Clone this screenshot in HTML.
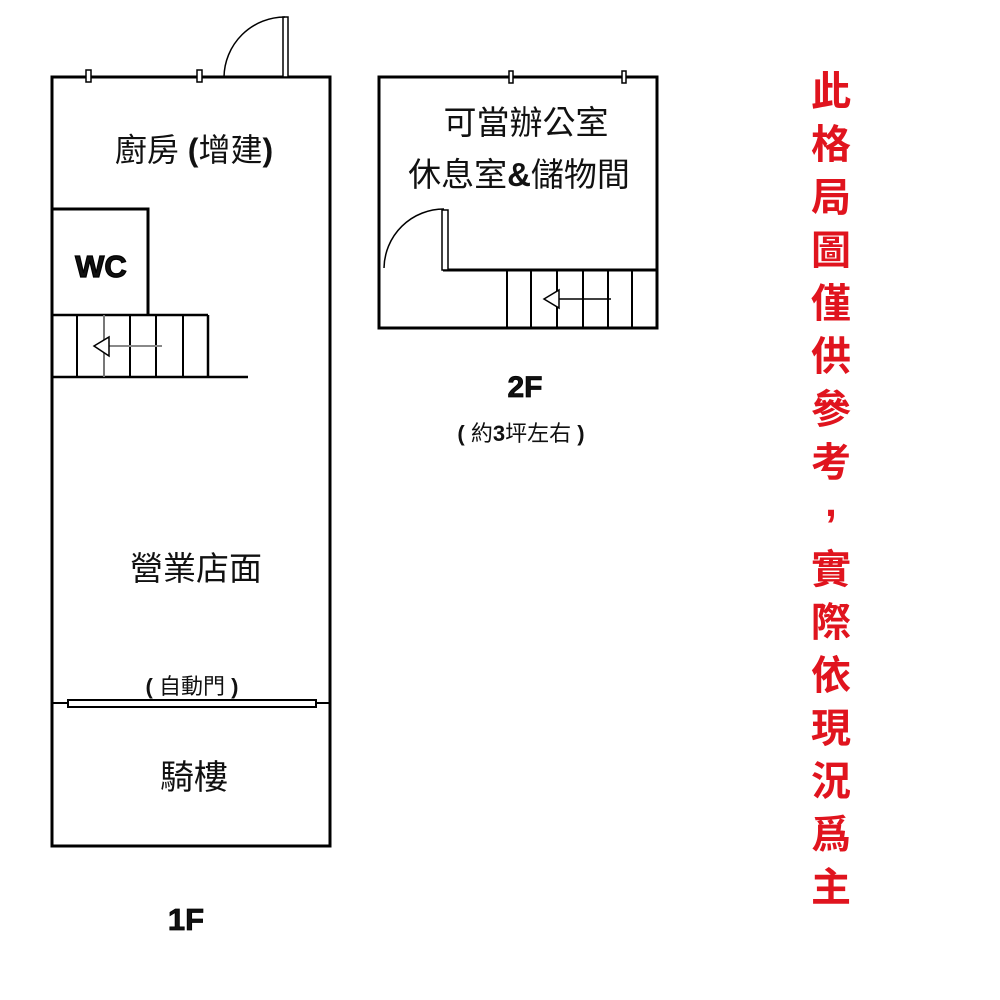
<!DOCTYPE html>
<html><head><meta charset="utf-8"><style>
html,body{margin:0;padding:0;background:#fff;}
svg{display:block}
text{font-family:"Liberation Sans","Noto Sans CJK TC",sans-serif;}
</style></head><body>
<svg width="1000" height="1000" viewBox="0 0 1000 1000" xmlns="http://www.w3.org/2000/svg">
<g fill="none" stroke="#000" stroke-width="3">
  <rect x="52" y="77" width="278" height="769"/>
  <polyline points="52,209 148,209 148,315"/>
  <line x1="52" y1="315" x2="208" y2="315" stroke-width="2.5"/>
  <line x1="52" y1="377" x2="248" y2="377" stroke-width="2.5"/>
  <line x1="208" y1="315" x2="208" y2="377" stroke-width="2.5"/>
</g>
<g stroke="#000" stroke-width="2">
  <line x1="77" y1="315" x2="77" y2="377"/>
  <line x1="130" y1="315" x2="130" y2="377"/>
  <line x1="156" y1="315" x2="156" y2="377"/>
  <line x1="183" y1="315" x2="183" y2="377"/>
</g>
<line x1="104" y1="315" x2="104" y2="377" stroke="#777" stroke-width="2"/>
<line x1="108" y1="346" x2="162" y2="346" stroke="#888" stroke-width="2"/>
<polygon points="94,346 109,337 109,356" fill="#fff" stroke="#000" stroke-width="1.5"/>
<rect x="86" y="70" width="5" height="12" fill="#fff" stroke="#000" stroke-width="1.5"/>
<rect x="197" y="70" width="5" height="12" fill="#fff" stroke="#000" stroke-width="1.5"/>
<rect x="283" y="17" width="5" height="60" fill="#fff" stroke="#000" stroke-width="1.5"/>
<path d="M224,77 A61,61 0 0 1 285,17" fill="none" stroke="#000" stroke-width="1.5"/>
<rect x="68" y="700" width="248" height="7" fill="#fff" stroke="#000" stroke-width="2"/>
<line x1="52" y1="703" x2="68" y2="703" stroke="#000" stroke-width="2"/>
<line x1="316" y1="703" x2="330" y2="703" stroke="#000" stroke-width="2"/>

<rect x="379" y="77" width="278" height="251" fill="none" stroke="#000" stroke-width="3"/>
<line x1="443" y1="270" x2="657" y2="270" stroke="#000" stroke-width="3"/>
<rect x="442" y="210" width="6" height="60" fill="#fff" stroke="#000" stroke-width="1.5"/>
<path d="M384,268 A60,60 0 0 1 444,209" fill="none" stroke="#000" stroke-width="1.5"/>
<g stroke="#000" stroke-width="2">
  <line x1="507" y1="270" x2="507" y2="328"/>
  <line x1="531" y1="270" x2="531" y2="328"/>
  <line x1="557" y1="270" x2="557" y2="328"/>
  <line x1="583" y1="270" x2="583" y2="328"/>
  <line x1="608" y1="270" x2="608" y2="328"/>
  <line x1="632" y1="270" x2="632" y2="328"/>
</g>
<line x1="558" y1="299" x2="611" y2="299" stroke="#000" stroke-width="1.5"/>
<polygon points="544,299 559,290 559,308" fill="#fff" stroke="#000" stroke-width="1.5"/>
<rect x="509" y="71" width="4" height="12" fill="#fff" stroke="#000" stroke-width="1.5"/>
<rect x="622" y="71" width="4" height="12" fill="#fff" stroke="#000" stroke-width="1.5"/>

<g fill="#111" text-anchor="middle">
  <text x="194" y="161" font-size="32">廚房 <tspan font-weight="bold">(</tspan>增建<tspan font-weight="bold">)</tspan></text>
  <text x="101" y="277" font-size="31" font-weight="bold" stroke="#000" stroke-width="1.2">WC</text>
  <text x="196" y="580" font-size="33">營業店面</text>
  <text x="192" y="694" font-size="22"><tspan font-weight="bold">(</tspan> 自動門 <tspan font-weight="bold">)</tspan></text>
  <text x="194" y="789" font-size="34">騎樓</text>
  <text x="186" y="930" font-size="31" font-weight="bold" stroke="#000" stroke-width="0.8">1F</text>
  <text x="526" y="134" font-size="33">可當辦公室</text>
  <text x="519" y="186" font-size="33">休息室<tspan font-weight="bold">&amp;</tspan>儲物間</text>
  <text x="525" y="397" font-size="30" font-weight="bold" stroke="#000" stroke-width="0.8">2F</text>
  <text x="521" y="441" font-size="22"><tspan font-weight="bold">(</tspan> 約<tspan font-weight="bold">3</tspan>坪左右 <tspan font-weight="bold">)</tspan></text>
</g>
<g fill="#e0141e" font-size="40" font-weight="bold" text-anchor="middle" style="font-family:'Noto Sans CJK TC',sans-serif">
  <text x="831" y="105">此</text>
  <text x="831" y="158">格</text>
  <text x="831" y="211">局</text>
  <text x="831" y="264">圖</text>
  <text x="831" y="317">僅</text>
  <text x="831" y="370">供</text>
  <text x="831" y="423">參</text>
  <text x="831" y="476">考</text>
  <text x="831" y="583">實</text>
  <text x="831" y="636">際</text>
  <text x="831" y="689">依</text>
  <text x="831" y="742">現</text>
  <text x="831" y="795">況</text>
  <text x="831" y="848">爲</text>
  <text x="831" y="901">主</text>
</g>
<text x="831" y="516" font-size="42" font-weight="bold" fill="#e0141e" text-anchor="middle" style="font-family:'Liberation Sans',sans-serif">,</text>
</svg>
</body></html>
